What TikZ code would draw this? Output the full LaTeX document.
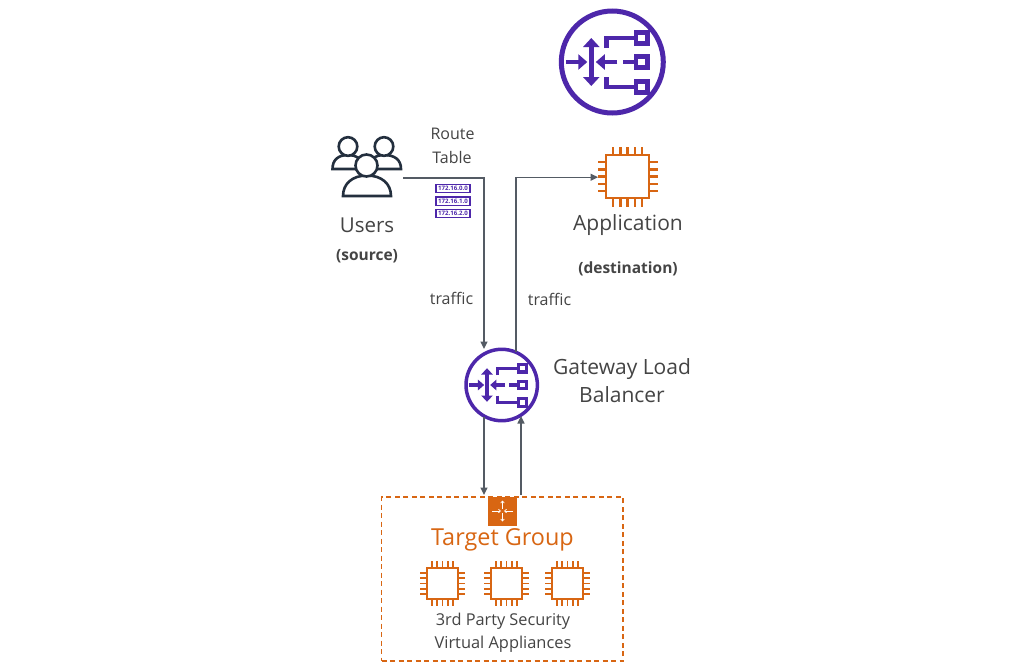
\documentclass[tikz,border=0pt]{standalone}
\usepackage{fontspec}
\setmainfont{Open Sans}
\usetikzlibrary{arrows.meta,calc}
\definecolor{awspurple}{HTML}{4D27AA}
\definecolor{awsorange}{HTML}{D86613}
\definecolor{awsdark}{HTML}{232F3E}
\definecolor{txt}{HTML}{444444}
\definecolor{conn}{HTML}{545B64}
\newcommand{\fs}[1]{\fontsize{#1}{#1}\selectfont}
\tikzset{
  lbl/.style={text=txt,inner sep=0pt,align=center},
  link/.style={draw=conn,line width=1.3pt,-{Triangle[length=7.5pt,width=7pt]}},
  person/.style={draw=awsdark,line width=2.6pt,fill=white},
  rt/.style={draw=awspurple,line width=1.4pt,minimum width=34pt,minimum height=8.2pt,inner sep=0pt,text=awspurple,font=\fs{6.1}\bfseries},
}
% #1 name, #2 x, #3 y, #4 scale
\newcommand{\gwlbicon}[4]{%
  \node[circle,draw=awspurple,line width=#4*5pt,minimum size=#4*102pt,inner sep=0pt,fill=white] (#1) at (#2,#3) {};
  \begin{scope}[shift={(#2,#3)},scale=#4,draw=awspurple,line width=#4*4.6pt,
     tip/.style={-{Triangle[length=#4*9pt,width=#4*15pt]}}]
    \draw[tip] (-46.5,0) -- (-25,0);
    \draw[{Triangle[length=#4*9pt,width=#4*16pt]}-{Triangle[length=#4*9pt,width=#4*16pt]}] (-21,-24) -- (-21,24);
    \draw[tip] (5,0) -- (-16.5,0);
    \draw (11,0) -- (23,0);
    \draw (-6,-14) -- (-6,-24) -- (23,-24);
    \draw (-6,15) -- (-6,25) -- (23,25);
    \foreach \yy in {-24,0,25} \draw (23.5,\yy-5.5) rectangle (35,\yy+5.5);
  \end{scope}}
\newcommand{\chipicon}[4]{%
  \node[rectangle,draw=awsorange,line width=#4*2.8pt,minimum size=#4*43pt,inner sep=0pt,fill=white] (#1) at (#2,#3) {};
  \begin{scope}[shift={(#2,#3)},scale=#4,draw=awsorange,line width=#4*2.6pt]
    \foreach \t in {-14.6,-7.3,0,7.3,14.6}{
      \draw (\t,-22.5) -- (\t,-30);
      \draw (\t,22.5) -- (\t,30);
      \draw (-22.5,\t) -- (-30,\t);
      \draw (22.5,\t) -- (30,\t);
    }
  \end{scope}}
\begin{document}
\begin{tikzpicture}[x=1pt,y=-1pt]
\useasboundingbox (0,0) rectangle (1023,670);
\fill[white] (0,0) rectangle (1023,670);

% target group box
\node[rectangle,draw=awsorange,line width=1.2pt,dash pattern=on 5pt off 3.5pt,minimum width=241.5pt,minimum height=164pt,inner sep=0pt] (tg) at (502.3,579) {};

% icons
\gwlbicon{gwlbtop}{612.3}{62}{1}
\gwlbicon{gwlb}{501.7}{385}{0.7}
\chipicon{app}{627.5}{176.5}{1}
\chipicon{chipa}{442.5}{583.5}{0.74}
\chipicon{chipb}{506.5}{583.5}{0.74}
\chipicon{chipc}{567.5}{583.5}{0.74}

% users icon
\coordinate (usersout) at (403,178);
\draw[person] (332.5,169) .. controls (332.5,160) and (338,155) .. (348,155) .. controls (358,155) and (362,160) .. (363,169) -- cycle;
\draw[person] (401,169) .. controls (401,160) and (395,155) .. (384,155) .. controls (374,155) and (370,160) .. (369,169) -- cycle;
\draw[person] (348,146.5) circle[radius=9.3pt];
\draw[person] (384,146.5) circle[radius=9.3pt];
\draw[person] (343,196) .. controls (343,184) and (352,175.5) .. (367,175.5) .. controls (382,175.5) and (391,184) .. (391,196) -- cycle;
\node[circle,draw=awsdark,line width=2.6pt,fill=white,minimum size=22pt,inner sep=0pt] (usershead) at (366.5,165.5) {};

% route table
\node[rt] (rta) at (453,188.6) {172.16.0.0};
\node[rt] (rtb) at (453,201.2) {172.16.1.0};
\node[rt] (rtc) at (453,213.6) {172.16.2.0};

% target group icon
\node[rectangle,fill=awsorange,minimum size=29pt,inner sep=0pt] (tgicon) at (502.5,511) {};
\begin{scope}[draw=white,line width=.7pt,shift={(tgicon.center)}]
  \draw[-{Straight Barb[length=2pt,width=3.5pt]}] (-10.5,0) -- (-1.5,0);
  \draw[-{Straight Barb[length=2pt,width=3.5pt]}] (10.5,0) -- (1.5,0);
  \draw[-{Straight Barb[length=2pt,width=3.5pt]}] (0,-2) -- (0,-10.5);
  \draw[-{Straight Barb[length=2pt,width=3.5pt]}] (0,2) -- (0,10.5);
\end{scope}

% connectors
\coordinate (gwInTop) at (484,349);
\coordinate (gwOutTop) at (516,352);
\coordinate (appIn) at (598,177.2);
\coordinate (gwOutBot) at (484,417);
\coordinate (gwInBot) at (521,416);
\coordinate (tgInTop) at (484,495);
\coordinate (tgOutTop) at (521,495);
\draw[link] (usersout) -| (gwInTop);
\draw[link] (gwOutTop) |- (appIn);
\draw[link] (gwOutBot) -- (tgInTop);
\draw[link] (tgOutTop) -- (gwInBot);

% labels
\node[lbl,font=\fs{16}] (routeA) at (452.5,134) {Route};
\node[lbl,font=\fs{16}] (routeB) at (452,157) {Table};
\node[lbl,font=\fs{20.5}] (users) at (367,225) {Users};
\node[lbl,font=\fs{15.5}\bfseries] (source) at (367,256) {(source)};
\node[lbl,font=\fs{21}] (appl) at (628,225) {Application};
\node[lbl,font=\fs{15.5}\bfseries] (dest) at (628,269) {(destination)};
\node[lbl,font=\fs{16}] (tr1) at (451.5,298) {traffic};
\node[lbl,font=\fs{16}] (tr2) at (549.5,299) {traffic};
\node[lbl,font=\fs{21}] (gwa) at (622,369) {Gateway Load};
\node[lbl,font=\fs{21}] (gwb) at (622,395) {Balancer};
\node[lbl,font=\fs{23.4},text=awsorange] (tgt) at (502.5,540) {Target Group};
\node[lbl,font=\fs{16.3}] (va) at (503,621) {3rd Party Security};
\node[lbl,font=\fs{16.4}] (vb) at (503,644) {Virtual Appliances};
\end{tikzpicture}
\end{document}
